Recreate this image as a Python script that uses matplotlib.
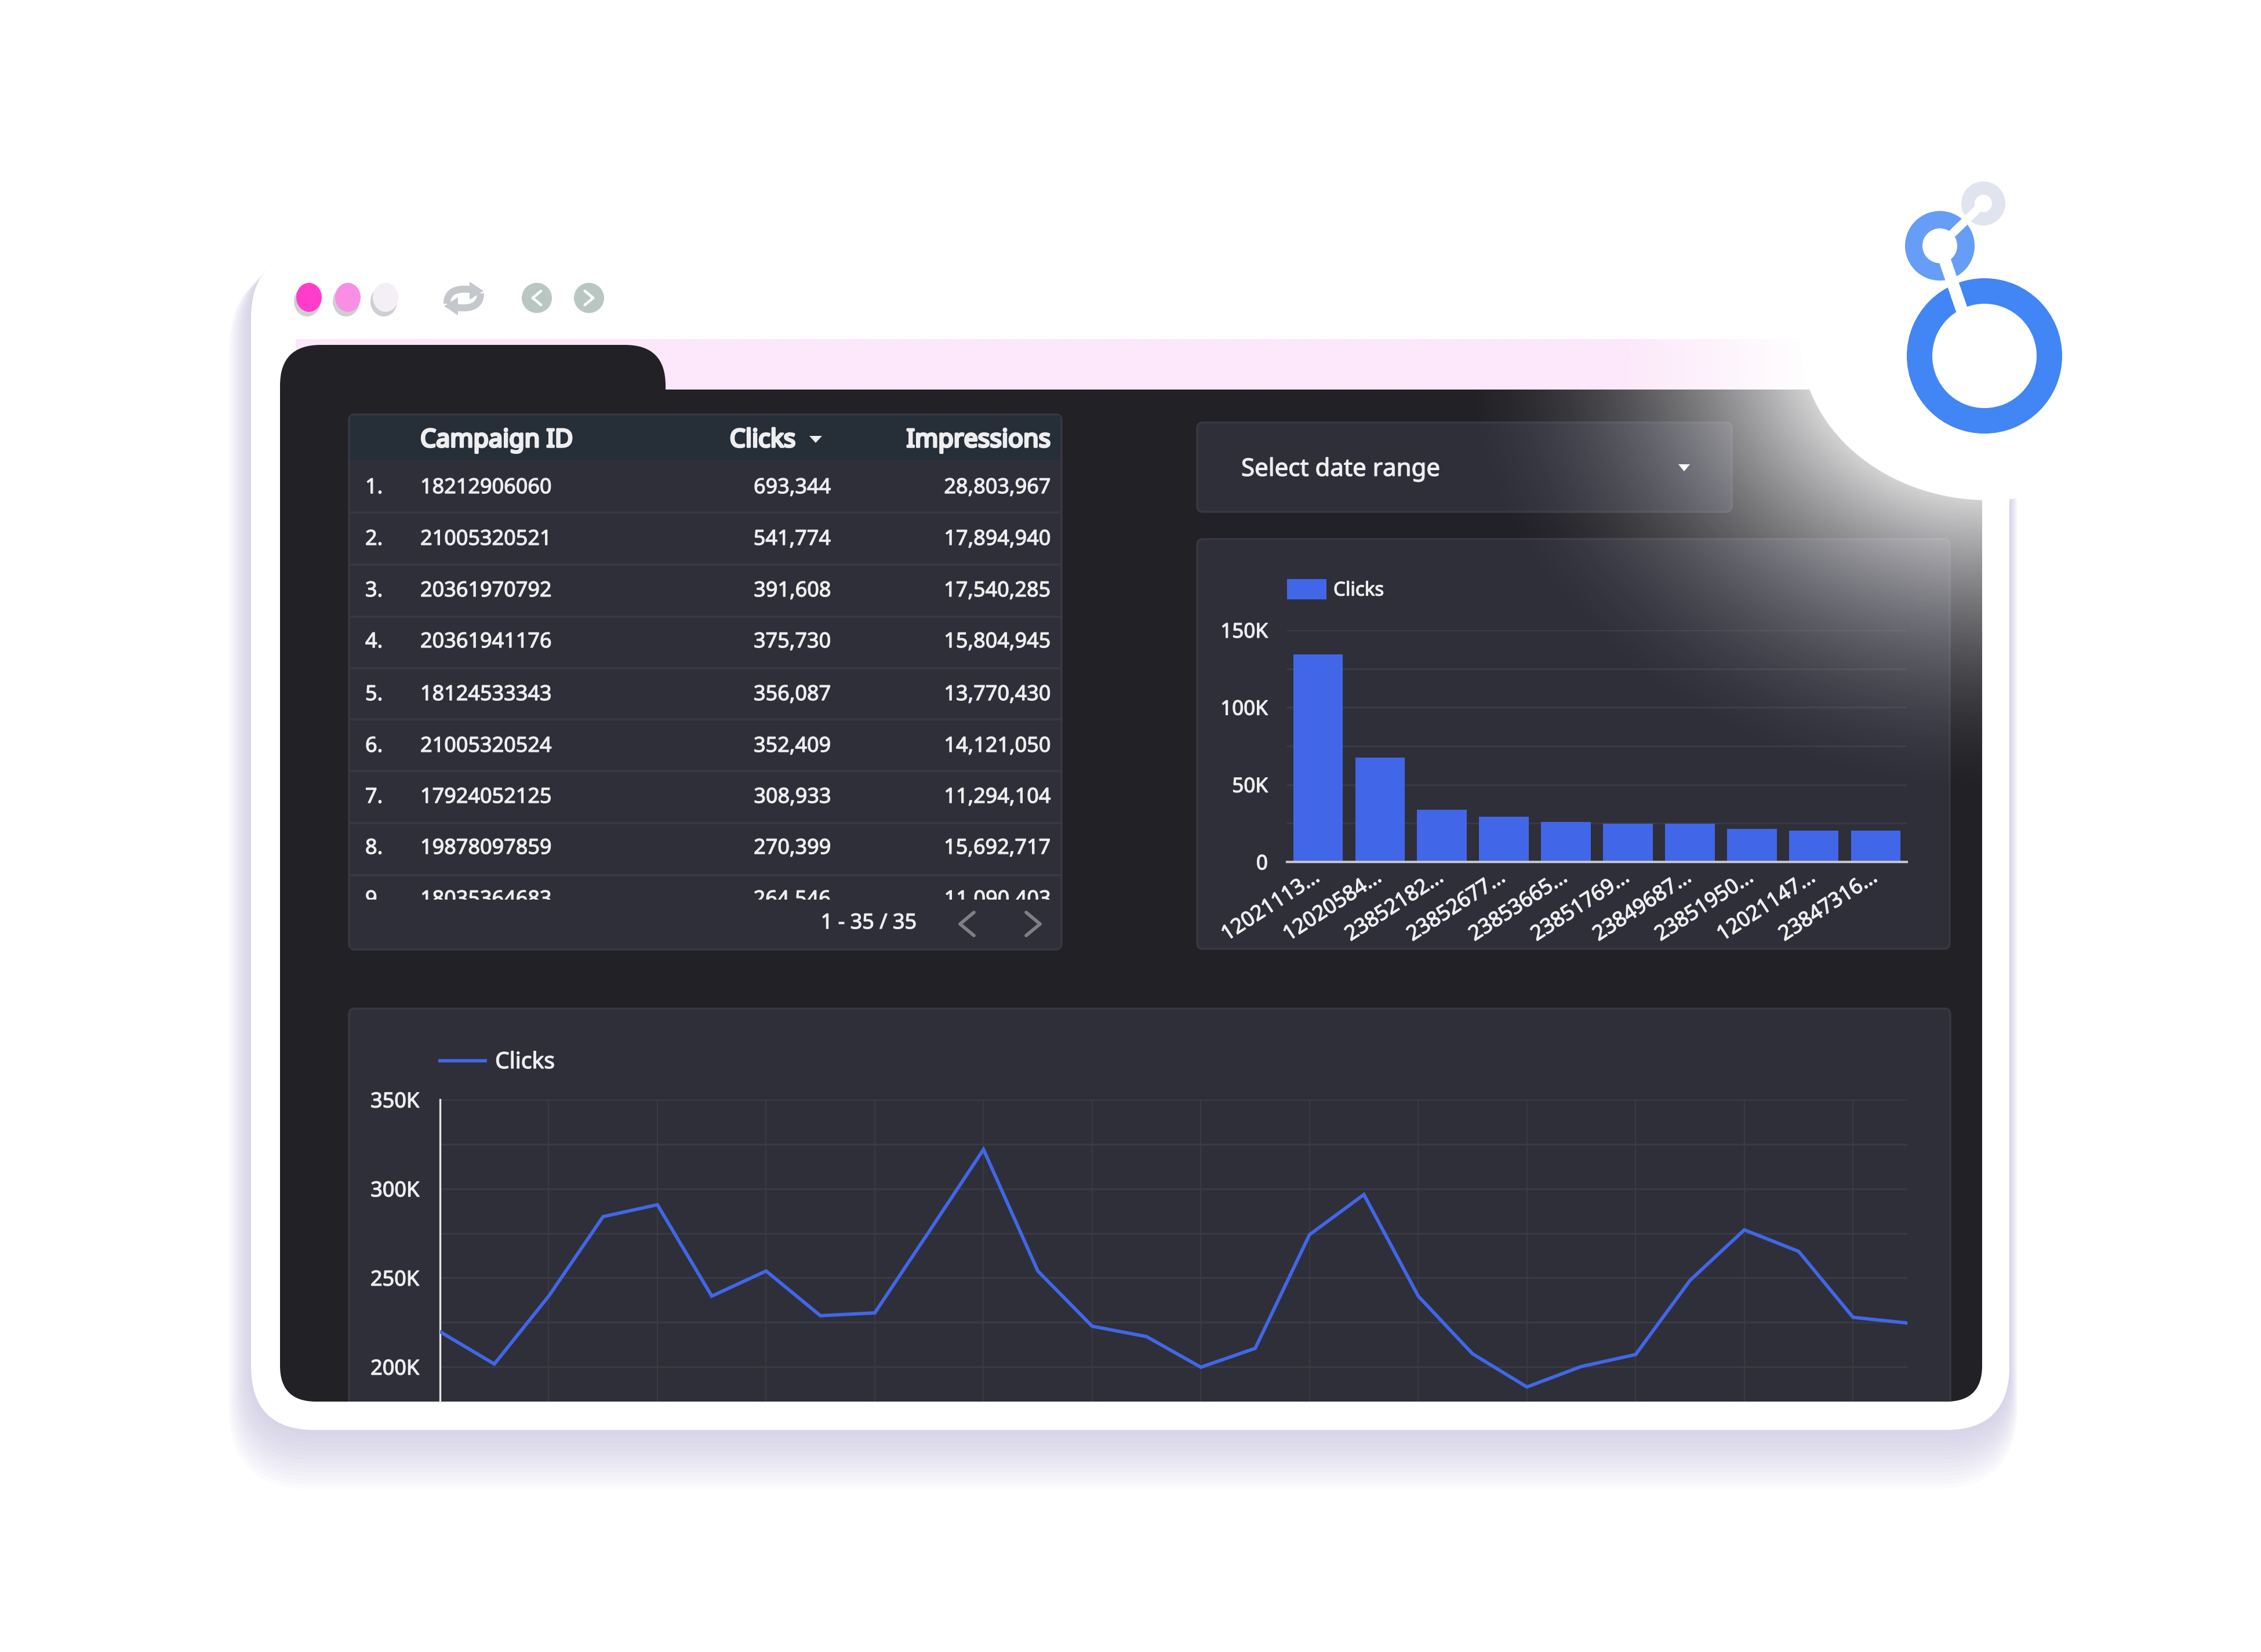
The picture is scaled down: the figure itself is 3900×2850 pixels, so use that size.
import matplotlib
matplotlib.use('Agg')
import matplotlib.pyplot as plt
import matplotlib.patheffects as pe
import numpy as np
from matplotlib.patches import FancyBboxPatch, Rectangle, Ellipse, Polygon, PathPatch, Wedge
from matplotlib.path import Path
from matplotlib.text import Text
from matplotlib.transforms import ScaledTranslation

plt.rcParams['font.family'] = ['Noto Sans', 'DejaVu Sans']

# Дані таблиці
ranks = ['1.', '2.', '3.', '4.', '5.', '6.', '7.', '8.', '9.']
campaign_ids = ['18212906060', '21005320521', '20361970792', '20361941176', '18124533343',
                '21005320524', '17924052125', '19878097859', '18035364683']
table_clicks = ['693,344', '541,774', '391,608', '375,730', '356,087',
                '352,409', '308,933', '270,399', '264,546']
table_impressions = ['28,803,967', '17,894,940', '17,540,285', '15,804,945', '13,770,430',
                     '14,121,050', '11,294,104', '15,692,717', '11,090,403']

# Стовпчикова діаграма
bar_labels = ['12021113...', '12020584...', '23852182...', '23852677...', '23853665...',
              '23851769...', '23849687...', '23851950...', '12021147...', '23847316...']
bar_clicks = [134400, 67400, 33700, 29200, 25700, 24700, 24700, 21200, 20100, 20100]
bar_ticks = [0, 50000, 100000, 150000]
bar_tick_labels = ['0', '50K', '100K', '150K']

# Лінійна діаграма
line_clicks = [219700, 201600, 239700, 284300, 291000, 239700, 253800, 228700, 230300, 276000,
               322000, 253800, 222800, 217000, 199800, 210400, 274200, 296700, 239700, 207300,
               188700, 200200, 206900, 248500, 276900, 264800, 227800, 224600]
line_ticks = [200000, 250000, 300000, 350000]
line_tick_labels = ['200K', '250K', '300K', '350K']

W, H = 3900, 2850
DARK = '#212126'
PANEL = '#2f2f3a'
EDGE = '#383943'
GRID = '#3b3b44'
TEXT = '#eeeef0'
BLUE = '#4167e8'


def fs(pixels):
    # Розмір шрифту в пікселях -> пункти при dpi=300
    return pixels * 72 / 300


def axes_px(x0, y0, x1, y1, zorder):
    return fig.add_axes([x0 / W, 1 - y1 / H, (x1 - x0) / W, (y1 - y0) / H], zorder=zorder)


def rounded(ax, x0, y0, x1, y1, r, **kw):
    p = FancyBboxPatch((x0 + r, y0 + r), x1 - x0 - 2 * r, y1 - y0 - 2 * r,
                       boxstyle='round,pad=%d,rounding_size=%d' % (r, r), **kw)
    ax.add_patch(p)
    return p


def chevron(ax, x, y, direction, color, size=20, lw=2.0, zorder=6):
    ax.plot([x - direction * size * 0.6, x + direction * size * 0.6, x - direction * size * 0.6],
            [y - size, y, y + size], color=color, lw=lw, solid_capstyle='round', zorder=zorder)


fig = plt.figure(figsize=(13, 9.5), dpi=300, facecolor='white')

# Нижній шар: вікно браузера, панелі, таблиця
bg = axes_px(0, 0, W, H, 0)
bg.set_xlim(0, W)
bg.set_ylim(H, 0)
bg.axis('off')

# Тінь картки
for i in range(14):
    grow = 70 - i * 5
    rounded(bg, 433 - grow * 0.55, 436 + grow * 0.4, 3466 + grow * 0.2, 2467 + grow * 1.45, 112 + grow * 0.4,
            fc='#bdb6dc', ec='none', alpha=0.05)
rounded(bg, 433, 438, 3466, 2467, 110, fc='white', ec='none')

# Кнопки вікна
for x, c in zip([533, 600, 665], ['#ff3dcb', '#f88fe4', '#f4eef7']):
    bg.add_patch(Ellipse((x - 3, 520), 46, 52, fc='#a9a9ad', ec='none', alpha=0.55))
    bg.add_patch(Ellipse((x, 513), 44, 50, fc=c, ec='none'))

# Значок оновлення
refresh = '#c4c7cc'
bg.add_patch(PathPatch(Path([(771, 524), (771, 498), (795, 497), (816, 500)],
                            [Path.MOVETO, Path.CURVE4, Path.CURVE4, Path.CURVE4]),
                       fc='none', ec=refresh, lw=2.9))
bg.add_patch(Polygon([(810, 486), (834, 502), (810, 517)], fc=refresh, ec='none'))
bg.add_patch(PathPatch(Path([(829, 506), (829, 532), (805, 533), (784, 530)],
                            [Path.MOVETO, Path.CURVE4, Path.CURVE4, Path.CURVE4]),
                       fc='none', ec=refresh, lw=2.9))
bg.add_patch(Polygon([(790, 544), (766, 528), (790, 513)], fc=refresh, ec='none'))

for x, d in zip([926, 1016], [-1, 1]):
    bg.add_patch(Ellipse((x, 514), 52, 52, fc='#b9c7c3', ec='none'))
    chevron(bg, x, 514, d, 'white', size=12, lw=1.1, zorder=3)

# Рожева смуга, що згасає праворуч
xs = np.linspace(510, 3200, 500)
band = np.zeros((2, 500, 4))
band[..., :3] = matplotlib.colors.to_rgb('#fce8fa')
band[..., 3] = np.clip((3130 - xs) / 330, 0, 1)
bg.imshow(band, extent=(510, 3200, 672, 585), aspect='auto', interpolation='bilinear', zorder=1)

# Темна панель з вкладкою
rounded(bg, 483, 595, 1148, 950, 70, fc=DARK, ec='none', zorder=2)
main_panel = rounded(bg, 483, 672, 3419, 2418, 62, fc=DARK, ec='none', zorder=2)

# Таблиця
rounded(bg, 602, 715, 1831, 1638, 10, fc=PANEL, ec=EDGE, lw=0.8, zorder=3)
bg.add_patch(Rectangle((604, 717), 1225, 77, fc='#262e38', ec='none', zorder=3.1))
hdr_y = 760
hdr = dict(color=TEXT, fontsize=fs(43), va='center', zorder=4)
h1 = bg.text(725, hdr_y, 'Campaign ID', **hdr)
h2 = bg.text(1372, hdr_y, 'Clicks', ha='right', **hdr)
h3 = bg.text(1812, hdr_y, 'Impressions', ha='right', **hdr)
bg.add_patch(Polygon([(1396, 752), (1418, 752), (1407, 764)], fc=TEXT, ec='none', zorder=4))

row_y = [842, 931, 1020, 1108, 1199, 1288, 1376, 1464, 1553]
sep_y = [884, 974, 1064, 1153, 1241, 1330, 1420, 1510]
for y in sep_y:
    bg.plot([604, 1829], [y, y], color=EDGE, lw=0.9, zorder=3.2)
for rank, cid, clicks, impressions, y in zip(ranks, campaign_ids, table_clicks, table_impressions, row_y):
    bg.text(630, y, rank, color=TEXT, fontsize=fs(36), va='center', zorder=4)
    bg.text(725, y, cid, color=TEXT, fontsize=fs(36), va='center', zorder=4)
    bg.text(1433, y, clicks, color=TEXT, fontsize=fs(36), va='center', ha='right', zorder=4)
    bg.text(1812, y, impressions, color=TEXT, fontsize=fs(36), va='center', ha='right', zorder=4)
# Обрізаємо дев'ятий рядок футером таблиці
bg.add_patch(Rectangle((604, 1552), 1225, 84, fc=PANEL, ec='none', zorder=5))
bg.text(1581, 1593, '1 - 35 / 35', color=TEXT, fontsize=fs(36), va='center', ha='right', zorder=6)
chevron(bg, 1668, 1594, -1, '#7f8086', size=20, lw=1.4)
chevron(bg, 1782, 1594, 1, '#7f8086', size=20, lw=1.4)

# Вибір дати
rounded(bg, 2065, 729, 2987, 883, 10, fc=PANEL, ec=EDGE, lw=0.8, zorder=3)
bg.text(2141, 810, 'Select date range', color=TEXT, fontsize=fs(42), va='center', zorder=4)
bg.add_patch(Polygon([(2895, 801), (2915, 801), (2905, 813)], fc='white', ec='none', zorder=4))

# Панелі діаграм
rounded(bg, 2065, 930, 3363, 1637, 10, fc=PANEL, ec=EDGE, lw=0.8, zorder=3)
line_panel = rounded(bg, 602, 1740, 3364, 2500, 10, fc=PANEL, ec=EDGE, lw=0.8, zorder=3)
# Низ панелі лінійної діаграми обрізано темною панеллю
line_panel.set_clip_path(main_panel)

# Легенда стовпчикової діаграми
bg.add_patch(Rectangle((2220, 999), 68, 35, fc=BLUE, ec='none', zorder=4))
bg.text(2300, 1019, 'Clicks', color=TEXT, fontsize=fs(33), va='center', zorder=4)
# Легенда лінійної діаграми
bg.plot([759, 837], [1830, 1830], color=BLUE, lw=1.4, zorder=4)
bg.text(854, 1833, 'Clicks', color=TEXT, fontsize=fs(39), va='center', zorder=4)
bg.set_xlim(0, W)
bg.set_ylim(H, 0)

# Стовпчикова діаграма
ax1 = axes_px(2220, 1087, 3289, 1487, 1)
ax1.patch.set_alpha(0)
ax1.bar(np.arange(len(bar_clicks)), bar_clicks, width=0.8, color=BLUE, zorder=3)
ax1.set_xlim(-0.5, 9.5)
ax1.set_ylim(0, 150000)
ax1.set_yticks(bar_ticks)
ax1.set_yticklabels(bar_tick_labels, color=TEXT, fontsize=fs(35))
ax1.set_yticks(np.arange(25000, 150000, 50000), minor=True)
ax1.set_xticks(np.arange(len(bar_labels)))
ax1.set_xticklabels(bar_labels, rotation=33, ha='right', rotation_mode='anchor', color=TEXT, fontsize=fs(36))
ax1.tick_params(axis='both', which='both', length=0, pad=5)
ax1.tick_params(axis='y', pad=33 * 72 / 300)
ax1.grid(axis='y', which='both', color=GRID, lw=0.7, zorder=1)
for s in ['top', 'right', 'left']:
    ax1.spines[s].set_visible(False)
ax1.spines['bottom'].set_color('#c4c4c8')
ax1.spines['bottom'].set_linewidth(1.0)
ax1.spines['bottom'].set_zorder(4)
# Підписи трохи лівіше і вище
shift = ScaledTranslation(-10 / 300, 12 / 300, fig.dpi_scale_trans)
for lab in ax1.get_xticklabels():
    lab.set_transform(lab.get_transform() + shift)

# Лінійна діаграма
ax2 = axes_px(759, 1897, 3290, 2418, 1)
ax2.patch.set_alpha(0)
ax2.plot(np.arange(len(line_clicks)), line_clicks, color=BLUE, lw=1.4, solid_joinstyle='miter', zorder=3)
ax2.set_xlim(0, 27)
ax2.set_ylim(180500, 350000)
ax2.set_yticks(line_ticks)
ax2.set_yticklabels(line_tick_labels, color=TEXT, fontsize=fs(36))
ax2.set_yticks(np.arange(225000, 350000, 50000), minor=True)
ax2.set_xticks(np.arange(2, 28, 2))
ax2.set_xticklabels([])
ax2.tick_params(axis='both', which='both', length=0)
ax2.tick_params(axis='y', pad=36 * 72 / 300)
ax2.grid(axis='y', which='both', color=GRID, lw=0.7, zorder=1)
ax2.grid(axis='x', which='major', color=GRID, lw=0.45, zorder=1)
for s in ['top', 'right', 'bottom']:
    ax2.spines[s].set_visible(False)
ax2.spines['left'].set_color('#e6e6e6')
ax2.spines['left'].set_linewidth(0.8)

# Верхній шар: світіння, виріз і логотип
top = axes_px(0, 0, W, H, 2)
top.patch.set_alpha(0)
top.axis('off')

cx, cy, rx, ry = 3430, 585, 325, 278
gx, gy = np.meshgrid(np.linspace(2300, 3419, 560), np.linspace(672, 1600, 460))
r = np.sqrt(((gx - cx) / rx) ** 2 + ((gy - cy) / ry) ** 2)
glow = np.ones(gx.shape + (4,))
glow[..., 3] = 0.8 * np.clip(1 - (r - 1) / 1.9, 0, 1) ** 1.8
top.imshow(glow, extent=(2300, 3419, 1600, 672), aspect='auto', interpolation='bilinear', zorder=1)

top.add_patch(Ellipse((cx, cy), 2 * rx, 2 * ry, fc='white', ec='none', zorder=2))

# Логотип
top.add_patch(Wedge((3423, 614), 134, 0, 360, width=44, fc='#4285f4', ec='none', zorder=3))
top.add_patch(Wedge((3346, 424), 60, 0, 360, width=30, fc='#669df6', ec='none', zorder=3))
top.add_patch(Wedge((3421, 351), 38, 0, 360, width=23, fc='#e0e4ee', ec='none', zorder=3))
top.plot([3346, 3421], [424, 351], color='white', lw=3.4, solid_capstyle='round', zorder=4)
top.plot([3346, 3392, 3398], [424, 558, 575], color='white', lw=5.0, solid_capstyle='butt', zorder=4)
top.set_xlim(0, W)
top.set_ylim(H, 0)

# Текст у зразку трохи жирніший за звичайне накреслення
for t in fig.findobj(Text):
    if t.get_text():
        t.set_path_effects([pe.withStroke(linewidth=0.3, foreground=t.get_color())])
for t in [h1, h2, h3]:
    t.set_path_effects([pe.withStroke(linewidth=0.85, foreground=TEXT)])

fig.savefig('out.png', dpi=300)
